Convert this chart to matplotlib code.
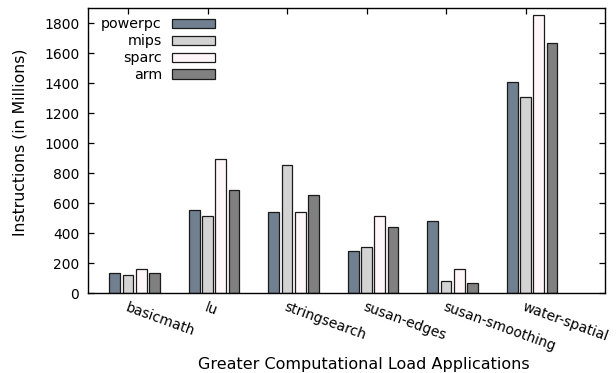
import numpy as np
import matplotlib
matplotlib.use("Agg")
import matplotlib.pyplot as plt

apps = ["basicmath", "lu", "stringsearch", "susan-edges", "susan-smoothing", "water-spatial"]
series = ["powerpc", "mips", "sparc", "arm"]
powerpc = [133, 558, 540, 284, 480, 1411]
mips = [120, 518, 856, 307, 84, 1309]
sparc = [162, 896, 542, 518, 160, 1856]
arm = [138, 687, 658, 440, 67, 1669]
colors = ["#708090", "#d3d3d3", "#fff6fa", "#808080"]

plt.rcParams["font.family"] = "DejaVu Sans"
plt.rcParams["font.size"] = 10

fig = plt.figure(figsize=(6.16, 3.73), dpi=100)
ax = fig.add_axes([88.3/616, (373-293.3)/373, (605-88.3)/616, (293.3-8.3)/373])

x = np.arange(len(apps))
step = 1/6
width = 0.8*step
for j, (name, vals) in enumerate(zip(series, [powerpc, mips, sparc, arm])):
    ax.bar(x + (j-1)*step, vals, width, color=colors[j], edgecolor="#1a1a1a",
           linewidth=0.9, label=name, zorder=3)

ax.set_xlim(-0.5, 6)
ax.set_ylim(0, 1900)
ax.set_yticks(range(0, 1801, 200))
ax.set_xticks(x)
ax.set_xticklabels(apps, rotation=-20, ha="left", va="top", rotation_mode="anchor")
ax.tick_params(direction="in", length=4.5, width=0.9, top=True, right=True)
ax.tick_params(axis="y", pad=6.5)
ax.tick_params(axis="x", pad=5)
ax.set_axisbelow(True)
for s in ax.spines.values():
    s.set_linewidth(1.0)
    s.set_zorder(4)

ax.set_ylabel("Instructions (in Millions)", fontsize=11.3, labelpad=12, y=0.529)
ax.set_xlabel("Greater Computational Load Applications", fontsize=11.5, labelpad=2.5, x=0.534)

leg = ax.legend(loc="upper left", bbox_to_anchor=(0.025, 0.968), frameon=False,
                markerfirst=False, handlelength=3.0, handleheight=0.6,
                handletextpad=0.7, labelspacing=0.2, borderpad=0, borderaxespad=0,
                fontsize=10.3)
# right-align the labels like gnuplot does
for col in leg._legend_handle_box.get_children():
    col.align = "right"

fig.savefig("out.png", dpi=100)
